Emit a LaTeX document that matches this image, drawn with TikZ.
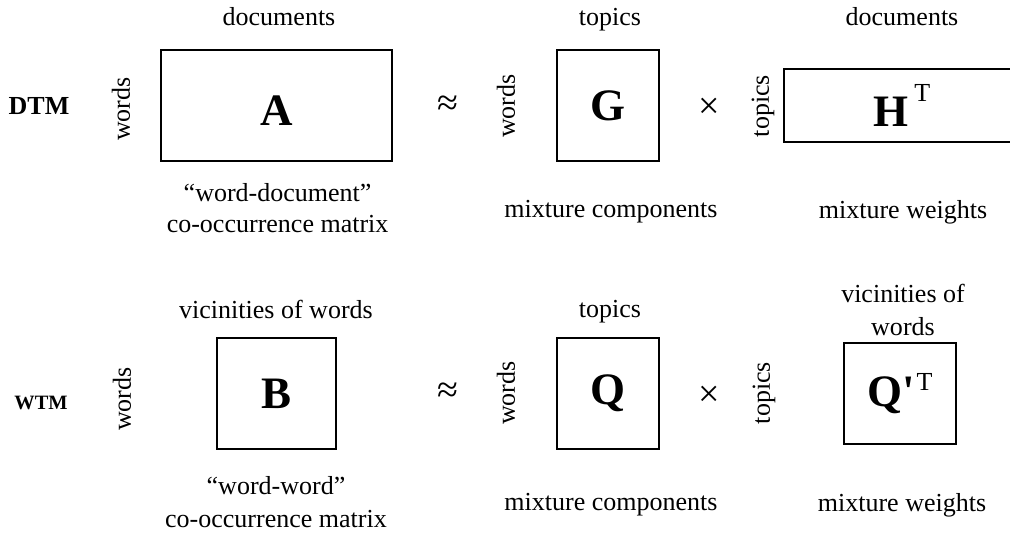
\documentclass[tikz,border=0pt]{standalone}
\usepackage{fontspec}
\setmainfont{Liberation Serif}
\usepackage{tikz}

\newcommand{\trans}[1]{\raisebox{#1}{\normalfont\fontsize{18.5}{22}\selectfont T}}

\begin{document}
\begin{tikzpicture}[font=\fontsize{18.5}{22}\selectfont,
    mat/.style={rectangle, draw, line width=1.7pt, inner sep=0pt, font=\fontsize{32}{36}\selectfont\bfseries},
    side/.style={rotate=90},
    op/.style={font=\fontsize{27}{30}\selectfont},
    note/.style={align=center}]

    \useasboundingbox (0,0) rectangle (25.25,13.3);
    \clip (0,0) rectangle (25.25,13.3);

    % DTM row
    \node[font=\fontsize{18.5}{22}\selectfont\bfseries] (dtm) at (0.975,10.65) {DTM};
    \node[side] (wA) at (3.025,10.575) {words};
    \node[mat, minimum width=5.775cm, minimum height=2.775cm, text height=29pt] (A) at (6.91,10.66) {A};
    \node (docA) at (6.975,12.875) {documents};
    \node[note, font=\fontsize{18.5}{21.5}\selectfont] (capA) at (6.94,8.1) {“word-document”\\co-occurrence matrix};

    \node[op] (apx1) at (11.2,10.65) {≈};

    \node[side] (wG) at (12.65,10.65) {words};
    \node[mat, minimum width=2.55cm, minimum height=2.775cm] (G) at (15.2,10.66) {G};
    \node (topG) at (15.25,12.8) {topics};
    \node (capG) at (15.275,8.0) {mixture components};

    \node[op] (times1) at (17.725,10.6) {×};

    \node[side] (tH) at (19.075,10.65) {topics};
    \node[mat, minimum width=5.9cm, minimum height=1.825cm] (H) at (22.55,10.66) {H\hspace{4pt}\trans{17.8pt}};
    \node (docH) at (22.55,12.875) {documents};
    \node (capH) at (22.575,8.0) {mixture weights};

    % WTM row
    \node[font=\fontsize{14.5}{17}\selectfont\bfseries] (wtm) at (1.025,3.225) {WTM};
    \node[side] (wB) at (3.05,3.325) {words};
    \node[mat, minimum width=2.975cm, minimum height=2.775cm] (B) at (6.91,3.46) {B};
    \node (vicB) at (6.9,5.575) {vicinities of words};
    \node[note, font=\fontsize{18.5}{23.5}\selectfont] (capB) at (6.9,0.7375) {“word-word”\\co-occurrence matrix};

    \node[op] (apx2) at (11.2,3.475) {≈};

    \node[side] (wQ) at (12.65,3.475) {words};
    \node[mat, minimum width=2.55cm, minimum height=2.775cm] (Q) at (15.2,3.46) {Q};
    \node (topQ) at (15.25,5.5) {topics};
    \node (capQ) at (15.275,0.68) {mixture components};

    \node[op] (times2) at (17.725,3.4) {×};

    \node[side] (tQp) at (19.1,3.475) {topics};
    \node[mat, minimum width=2.8cm, minimum height=2.525cm] (Qp) at (22.5,3.46) {Q\textquotesingle\hspace{1pt}\trans{12pt}};
    \node[note, font=\fontsize{18.5}{23.5}\selectfont] (vicQp) at (22.575,5.56) {vicinities of\\words};
    \node (capQp) at (22.55,0.68) {mixture weights};
\end{tikzpicture}
\end{document}
